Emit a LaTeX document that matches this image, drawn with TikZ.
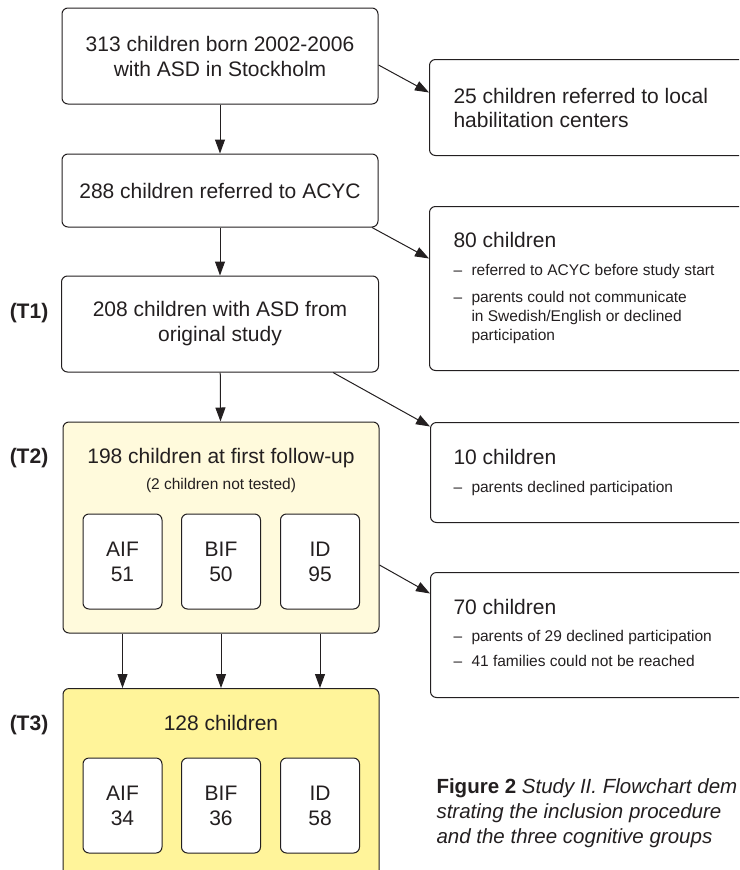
\documentclass[tikz,border=0pt]{standalone}
\usepackage{fontspec}
\setmainfont{Liberation Sans}
\usetikzlibrary{arrows.meta}
\definecolor{ink}{HTML}{231F20}
\definecolor{paleyellow}{HTML}{FFFADC}
\definecolor{deepyellow}{HTML}{FFF49A}
\newcommand{\mainsz}{\fontsize{21}{25}\selectfont}
\newcommand{\subsz}{\fontsize{15.5}{19}\selectfont}
\newcommand{\capsz}{\fontsize{20.5}{25}\selectfont}
\newcommand{\itemdash}{\makebox[18pt][l]{--}}
\begin{document}
\begin{tikzpicture}[x=1pt, y=-1pt, color=ink, line width=1pt,
  box/.style={draw, rounded corners=6pt, align=center, font=\mainsz, inner sep=0pt},
  side/.style={draw, rounded corners=6pt, anchor=north west, minimum width=345pt, inner sep=0pt},
  grp/.style={draw, rounded corners=6pt, fill=white, minimum width=79pt, minimum height=95pt, align=center, font=\mainsz, inner sep=0pt},
  tlab/.style={anchor=base, font=\mainsz\bfseries, inner sep=0pt},
  head/.style={anchor=base west, font=\mainsz, inner sep=0pt},
  item/.style={anchor=base west, font=\subsz, inner sep=0pt},
  arr/.style={-{Triangle[length=14pt,width=10pt]}}]

\useasboundingbox (0,0) rectangle (739,870);
\clip (0,0) rectangle (739,870);

% main column
\node[box, minimum width=316pt, minimum height=96pt] (born) at (220,56) {313 children born 2002-2006\\with ASD in Stockholm};
\node[box, minimum width=316pt, minimum height=73pt] (acyc) at (220,190.5) {288 children referred to ACYC};
\node[box, minimum width=317pt, minimum height=96pt] (orig) at (220,324) {208 children with ASD from\\original study};
\node[box, fill=paleyellow, minimum width=316pt, minimum height=211pt] (fu1) at (221,527.5) {};
\node[box, fill=deepyellow, minimum width=316pt, minimum height=220pt, anchor=north] (fu2) at (221,688) {};

\node[anchor=base, font=\mainsz, inner sep=0pt] (fu1title) at (221,463) {198 children at first follow-up};
\node[anchor=base, font=\subsz, inner sep=0pt] (fu1note) at (221,489) {(2 children not tested)};
\node[anchor=base, font=\mainsz, inner sep=0pt] (fu2title) at (221,730) {128 children};

\node[grp] (aif1) at (122.5,561.5) {AIF\\51};
\node[grp] (bif1) at (221,561.5) {BIF\\50};
\node[grp] (id1) at (320,561.5) {ID\\95};
\node[grp] (aif2) at (122.5,805.5) {AIF\\34};
\node[grp] (bif2) at (221,805.5) {BIF\\36};
\node[grp] (id2) at (320,805.5) {ID\\58};

\node[tlab] (t1) at (29,318) {(T1)};
\node[tlab] (t2) at (29,463) {(T2)};
\node[tlab] (t3) at (29,730) {(T3)};

% side boxes
\node[side, minimum height=96pt] (hab) at (429,59) {};
\node[side, minimum height=164pt] (early) at (429,206) {};
\node[side, minimum height=100pt] (decl) at (430,422) {};
\node[side, minimum height=125pt] (lost) at (430,572) {};

\node[head] (hab1) at (453,103) {25 children referred to local};
\node[head] (hab2) at (453,127) {habilitation centers};

\node[head] (early1) at (453,247) {80 children};
\node[item] (early2) at (453,275) {\itemdash referred to ACYC before study start};
\node[item] (early3) at (453,302) {\itemdash parents could not communicate};
\node[item] (early4) at (471,321) {in Swedish/English or declined};
\node[item] (early5) at (471,340) {participation};

\node[head] (decl1) at (453,464) {10 children};
\node[item] (decl2) at (453,492) {\itemdash parents declined participation};

\node[head] (lost1) at (453,614) {70 children};
\node[item] (lost2) at (453,641) {\itemdash parents of 29 declined participation};
\node[item] (lost3) at (453,666) {\itemdash 41 families could not be reached};

% caption
\node[head, font=\capsz] (cap1) at (436,793) {\textbf{Figure 2} \textit{Study II. Flowchart dem}};
\node[head, font=\capsz] (cap2) at (436,818) {\textit{strating the inclusion procedure}};
\node[head, font=\capsz] (cap3) at (436,843) {\textit{and the three cognitive groups}};

% arrows
\draw[arr] (born) -- (acyc);
\draw[arr] (acyc) -- (orig);
\draw[arr] (orig) -- (fu1);
\foreach \g in {aif,bif,id}
  \draw[arr] (\g1.south |- fu1.south) -- (\g1.south |- fu2.north);

\draw[arr] ([yshift=-9pt]born.east) -- ([yshift=15pt]hab.west);
\draw[arr] ([xshift=152pt]acyc.south) -- ([yshift=30pt]early.west);
\draw[arr] ([xshift=113pt]orig.south) -- ([yshift=46pt]decl.west);
\draw[arr] ([yshift=-37.5pt]fu1.east) -- ([yshift=41.5pt]lost.west);

\end{tikzpicture}
\end{document}
